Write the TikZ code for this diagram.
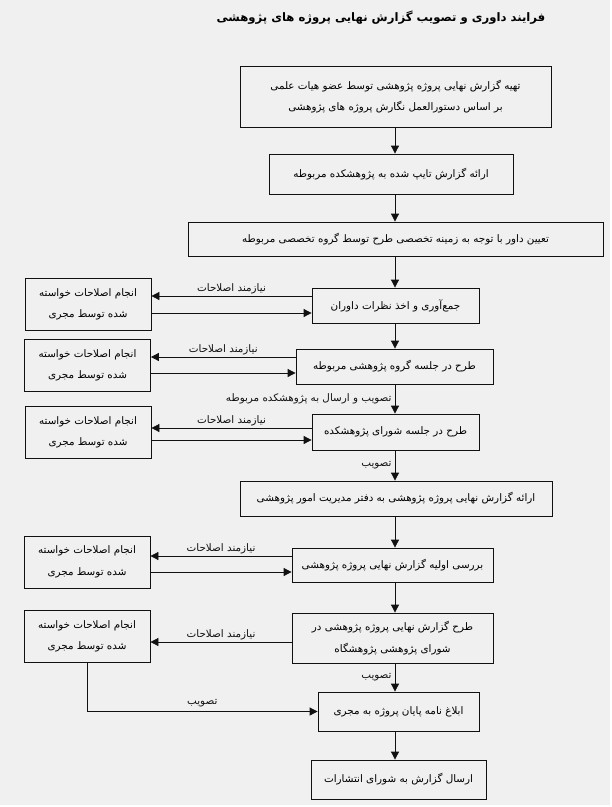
\documentclass[tikz,border=0pt]{standalone}
\usepackage{fontspec}
\usepackage{xcolor}
\usepackage{tikz}
\usetikzlibrary{arrows.meta,positioning,calc}
\TeXXeTstate=1
\newfontfamily\farsifont[Script=Arabic]{DejaVu Sans}
\newcommand{\fa}[1]{\beginR #1\endR}
\definecolor{paper}{HTML}{F0F0F0}
\definecolor{ink}{HTML}{111111}

\begin{document}
\begin{tikzpicture}[x=1bp,y=-1bp,
				every node/.style={font=\farsifont\fontsize{10.4}{21.5}\selectfont},
				stage/.style={draw=ink,line width=0.8bp,align=center,inner sep=0pt},
				fix/.style={stage,minimum width=126bp,minimum height=52bp},
				flow/.style={-{Triangle[length=8bp,width=8bp]},line width=0.8bp,ink}]

				\path[use as bounding box] (0,0) rectangle (612,807);
				\fill[paper] (0,0) rectangle (610,805);

				\node (title) at (381,18) {\farsifont\bfseries\fontsize{11.7}{14}\selectfont\fa{فرایند داوری و تصویب گزارش نهایی پروژه های پژوهشی}};
				\coordinate (ax) at (395,0);

				\node[stage,minimum width=311bp,minimum height=61bp] (tahie) at (395.5,96.5)
				{\fa{تهیه گزارش نهایی پروژه پژوهشی توسط عضو هیات علمی}\\\fa{بر اساس دستورالعمل نگارش پروژه های پژوهشی}};
				\node[stage,minimum width=244bp,minimum height=40bp] (erae) at (391,174) {\fa{ارائه گزارش تایپ شده به پژوهشکده مربوطه}};
				\node[stage,minimum width=415bp,minimum height=34bp] (davar) at (395.5,239) {\fa{تعیین داور با توجه به زمینه تخصصی طرح توسط گروه تخصصی مربوطه}};
				\node[stage,minimum width=167bp,minimum height=35bp] (nazar) at (395.5,305.5) {\fa{جمع‌آوری و اخذ نظرات داوران}};
				\node[stage,minimum width=197bp,minimum height=35bp] (goruh) at (394.5,366.5) {\fa{طرح در جلسه گروه پژوهشی مربوطه}};
				\node[stage,minimum width=167bp,minimum height=36bp] (shora) at (395.5,432) {\fa{طرح در جلسه شورای پژوهشکده}};
				\node[stage,minimum width=312bp,minimum height=35bp] (daftar) at (396,498.5) {\fa{ارائه گزارش نهایی پروژه پژوهشی به دفتر مدیریت امور پژوهشی}};
				\node[stage,minimum width=201bp,minimum height=34bp] (barrasi) at (392.5,565) {\fa{بررسی اولیه گزارش نهایی پروژه پژوهشی}};
				\node[stage,minimum width=201bp,minimum height=50bp] (pazh) at (392.5,638)
				{\fa{طرح گزارش نهایی پروژه پژوهشی در}\\\fa{شورای پژوهشی پژوهشگاه}};
				\node[stage,minimum width=161bp,minimum height=39bp] (eblagh) at (398.5,711.5) {\fa{ابلاغ نامه پایان پروژه به مجری}};
				\node[stage,minimum width=175bp,minimum height=39bp] (ersal) at (398.5,779.5) {\fa{ارسال گزارش به شورای انتشارات}};

				\node[fix] (es1) at (88,304.5) {\fa{انجام اصلاحات خواسته}\\\fa{شده توسط مجری}};
				\node[fix] (es2) at (87.5,365.5) {\fa{انجام اصلاحات خواسته}\\\fa{شده توسط مجری}};
				\node[fix] (es3) at (88,432.5) {\fa{انجام اصلاحات خواسته}\\\fa{شده توسط مجری}};
				\node[fix] (es4) at (87,562) {\fa{انجام اصلاحات خواسته}\\\fa{شده توسط مجری}};
				\node[fix] (es5) at (87,636.5) {\fa{انجام اصلاحات خواسته}\\\fa{شده توسط مجری}};

				\draw[flow] (tahie.south -| ax) -- (erae.north -| ax);
				\draw[flow] (erae.south -| ax) -- (davar.north -| ax);
				\draw[flow] (davar.south -| ax) -- (nazar.north -| ax);
				\draw[flow] (nazar.south -| ax) -- (goruh.north -| ax);
				\draw[flow] (goruh.south -| ax) -- (shora.north -| ax)
					node[midway,left,inner sep=3bp] {\fa{تصویب و ارسال به پژوهشکده مربوطه}};
				\draw[flow] (shora.south -| ax) -- (daftar.north -| ax)
					node[midway,left,inner sep=3bp] {\fa{تصویب}};
				\draw[flow] (daftar.south -| ax) -- (barrasi.north -| ax);
				\draw[flow] (barrasi.south -| ax) -- (pazh.north -| ax);
				\draw[flow] (pazh.south -| ax) -- (eblagh.north -| ax)
					node[midway,left,inner sep=3bp] {\fa{تصویب}};
				\draw[flow] (eblagh.south -| ax) -- (ersal.north -| ax);

				\draw[flow] ([yshift=9.5bp]nazar.west) -- ([yshift=9.5bp]nazar.west -| es1.east)
					node[midway,above,inner sep=2bp] {\fa{نیازمند اصلاحات}};
				\draw[flow] ([yshift=-7.5bp]nazar.west -| es1.east) -- ([yshift=-7.5bp]nazar.west);
				\draw[flow] ([yshift=9.5bp]goruh.west) -- ([yshift=9.5bp]goruh.west -| es2.east)
					node[midway,above,inner sep=2bp] {\fa{نیازمند اصلاحات}};
				\draw[flow] ([yshift=-6.5bp]goruh.west -| es2.east) -- ([yshift=-6.5bp]goruh.west);
				\draw[flow] ([yshift=4bp]shora.west) -- ([yshift=4bp]shora.west -| es3.east)
					node[midway,above,inner sep=2bp] {\fa{نیازمند اصلاحات}};
				\draw[flow] ([yshift=-8bp]shora.west -| es3.east) -- ([yshift=-8bp]shora.west);
				\draw[flow] ([yshift=9bp]barrasi.west) -- ([yshift=9bp]barrasi.west -| es4.east)
					node[midway,above,inner sep=2bp] {\fa{نیازمند اصلاحات}};
				\draw[flow] ([yshift=-7bp]barrasi.west -| es4.east) -- ([yshift=-7bp]barrasi.west);
				\draw[flow] ([yshift=-4bp]pazh.west) -- ([yshift=-4bp]pazh.west -| es5.east)
					node[midway,above,inner sep=2bp] {\fa{نیازمند اصلاحات}};
				\draw[flow] (es5.south) |- (eblagh.west)
					node[pos=0.75,above,inner sep=4bp] {\fa{تصویب}};
			\end{tikzpicture}
\end{document}
